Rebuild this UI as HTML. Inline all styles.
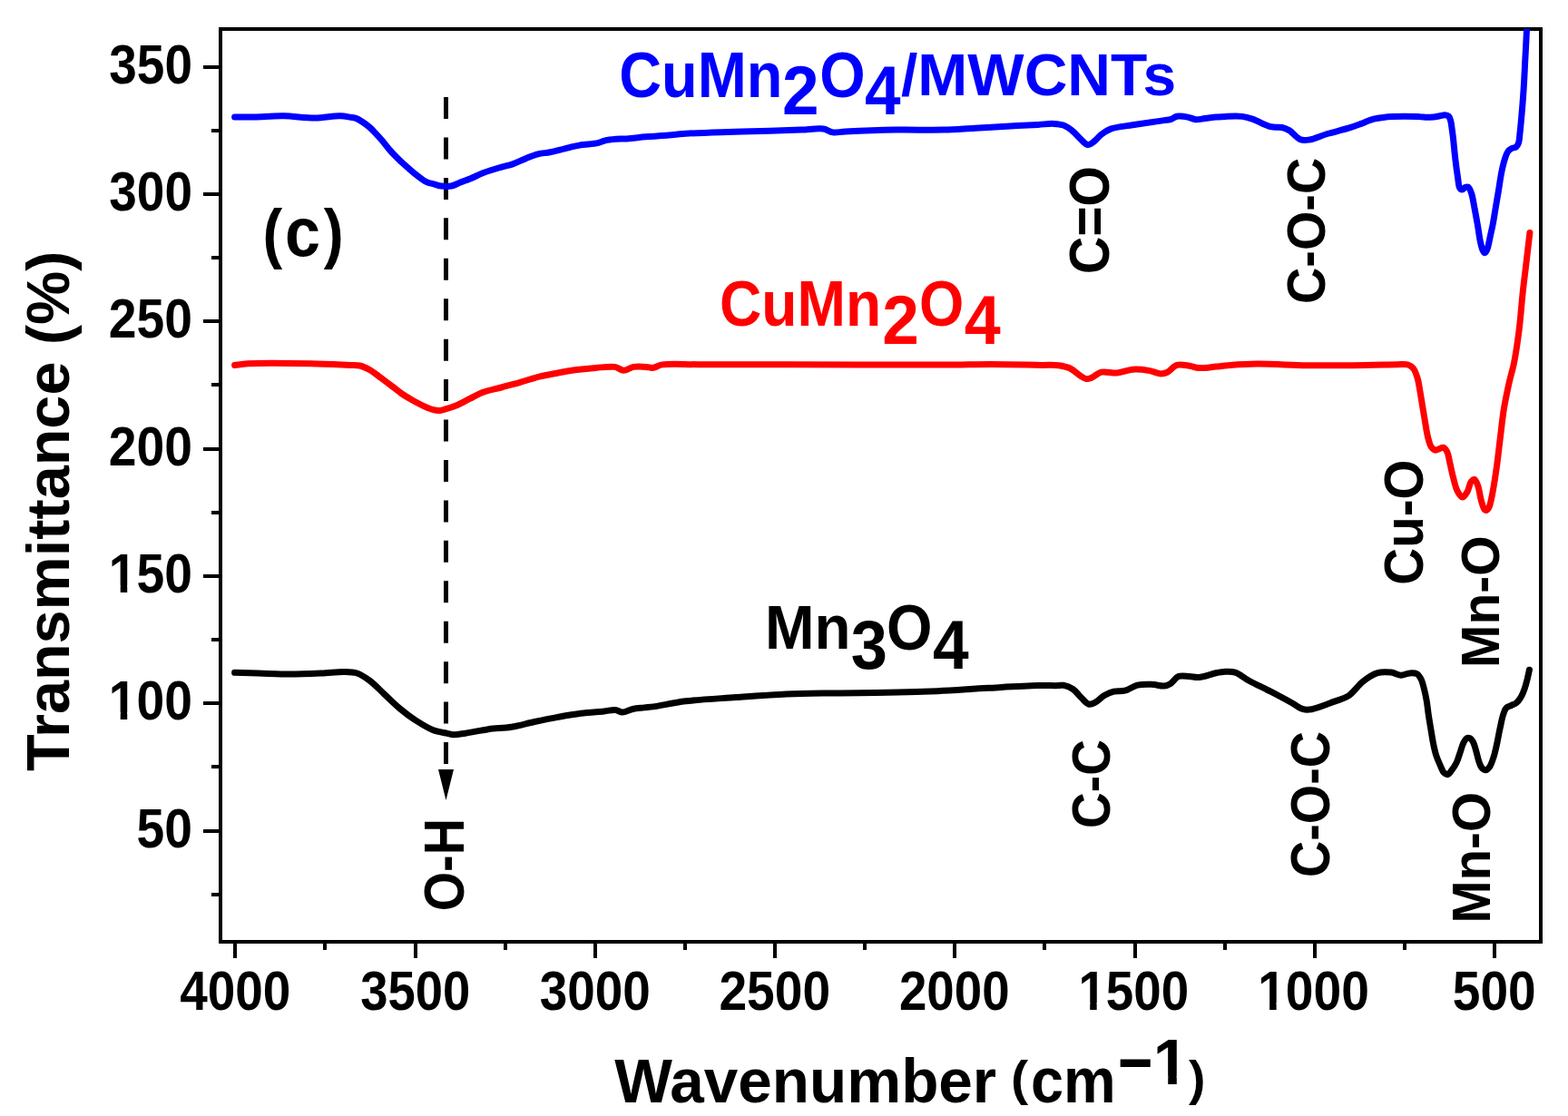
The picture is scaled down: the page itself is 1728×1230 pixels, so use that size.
<!DOCTYPE html>
<html><head><meta charset="utf-8"><title>FTIR spectra</title>
<style>
html,body{margin:0;padding:0;background:#fff;}
body{width:1728px;height:1230px;overflow:hidden;}
svg{display:block;}
text{font-family:"Liberation Sans", Arial, Helvetica, sans-serif;font-weight:bold;}
</style></head><body>
<svg width="1728" height="1230" viewBox="0 0 1728 1230">
<rect x="0" y="0" width="1728" height="1230" fill="#fff"/>
<defs><clipPath id="pc"><rect x="243" y="32" width="1455" height="1006"/></clipPath></defs>
<line x1="491.5" y1="107" x2="491.5" y2="842" stroke="#000" stroke-width="5" stroke-dasharray="24 20.44"/>
<polygon points="483,848 500,848 491.5,882" fill="#000"/>
<rect x="243" y="32" width="1455" height="1006" fill="none" stroke="#000" stroke-width="4"/>
<path d="M224,74H243 M233,144H243 M224,214H243 M233,284H243 M224,354H243 M233,424H243 M224,495H243 M233,565H243 M224,635H243 M233,705H243 M224,775H243 M233,845H243 M224,916H243 M233,986H243 M259,1038V1056 M358,1038V1047 M458,1038V1056 M557,1038V1047 M656,1038V1056 M755,1038V1047 M854,1038V1056 M953,1038V1047 M1052,1038V1056 M1151,1038V1047 M1250.5,1038V1056 M1349.5,1038V1047 M1449,1038V1056 M1548,1038V1047 M1647,1038V1056" stroke="#000" stroke-width="4" fill="none" shape-rendering="crispEdges"/>
<g clip-path="url(#pc)" fill="none" stroke-width="7" stroke-linejoin="round" stroke-linecap="round">
<path stroke="#0000ff" d="M258.6,128.9C265.7,128.9 272.1,129.0 280.0,128.9C289.7,128.7 301.5,127.6 312.5,127.8C323.9,128.0 336.3,130.2 347.2,130.1C357.0,130.0 367.7,127.6 375.0,127.8C379.8,127.9 383.6,128.9 386.8,129.4C389.0,129.7 390.4,129.7 392.3,130.4C394.6,131.2 397.2,132.9 399.6,134.5C402.1,136.1 404.6,137.9 407.0,140.0C409.5,142.2 411.9,144.8 414.3,147.3C416.8,149.9 419.2,152.6 421.6,155.5C424.1,158.5 426.3,161.7 429.1,164.9C432.3,168.6 436.5,172.8 440.0,176.2C443.2,179.3 446.2,181.9 449.3,184.6C452.4,187.3 455.2,189.9 458.5,192.5C462.0,195.2 465.9,198.6 469.6,200.4C472.7,201.9 476.0,202.3 478.9,203.1C481.5,203.8 483.6,204.7 486.3,205.0C489.6,205.4 493.9,205.7 497.4,205.0C500.7,204.4 503.4,202.6 506.7,201.3C510.4,199.8 514.6,198.4 518.7,196.7C523.2,194.9 527.6,192.5 532.6,190.6C538.3,188.4 545.4,186.3 551.1,184.6C556.0,183.1 560.4,182.5 565.0,180.9C569.7,179.3 574.2,176.8 578.9,174.9C583.5,173.1 588.1,171.0 592.8,169.8C597.2,168.7 601.5,168.7 606.2,167.8C611.4,166.8 617.0,165.1 622.4,163.8C627.8,162.5 632.9,161.1 638.6,160.1C645.0,159.0 653.7,158.9 658.9,157.7C662.3,156.9 664.0,155.5 667.0,154.8C670.6,153.9 675.5,153.5 679.1,153.2C682.1,153.0 684.5,153.1 687.2,153.0C689.9,152.9 692.1,152.7 695.3,152.4C699.8,152.0 705.9,151.3 711.5,150.8C717.5,150.3 723.3,150.1 730.0,149.6C737.9,149.0 745.9,147.9 755.7,147.3C768.9,146.5 786.6,146.0 802.0,145.5C817.4,145.0 834.0,144.7 848.3,144.3C860.7,143.9 872.5,143.5 883.0,143.1C891.8,142.7 901.1,141.0 907.4,142.0C911.7,142.7 914.0,145.3 917.8,145.9C922.0,146.5 925.5,145.3 931.7,145.0C944.0,144.4 968.9,143.4 987.2,143.1C1005.0,142.8 1024.2,143.5 1040.0,143.1C1052.8,142.8 1063.1,141.8 1074.7,141.2C1086.3,140.5 1097.8,139.8 1109.4,139.2C1121.0,138.6 1134.6,137.9 1144.2,137.4C1151.0,137.0 1156.5,136.1 1161.5,136.4C1165.4,136.6 1168.6,136.8 1172.0,138.1C1175.6,139.5 1179.2,142.1 1182.4,144.7C1185.6,147.2 1188.1,150.8 1191.0,153.4C1193.6,155.7 1196.2,159.3 1198.9,159.5C1201.4,159.7 1204.3,156.9 1206.7,155.1C1209.2,153.2 1210.9,150.3 1213.6,148.2C1216.6,145.9 1219.6,143.7 1224.0,142.1C1230.3,139.8 1239.5,139.2 1248.3,137.8C1258.8,136.1 1275.8,133.6 1283.0,132.6C1286.2,132.2 1287.7,132.4 1290.0,131.7C1292.4,131.0 1294.3,128.7 1297.0,128.2C1300.4,127.5 1305.3,128.4 1309.0,129.1C1312.2,129.7 1314.7,131.4 1317.8,131.7C1321.0,132.0 1324.5,130.9 1328.0,130.5C1331.8,130.1 1336.1,129.5 1340.0,129.1C1343.6,128.8 1346.4,128.5 1350.3,128.4C1355.6,128.2 1363.6,127.7 1369.0,128.4C1373.2,128.9 1375.8,129.7 1380.0,131.1C1385.8,133.0 1394.2,138.3 1400.3,139.7C1404.9,140.8 1409.2,139.7 1412.8,140.5C1415.8,141.2 1417.8,142.0 1420.6,143.6C1424.4,145.9 1429.0,152.3 1433.1,153.8C1436.3,155.0 1438.8,154.6 1442.5,154.1C1448.0,153.3 1455.8,149.6 1462.8,147.5C1470.3,145.3 1479.5,143.3 1486.2,141.2C1491.5,139.6 1496.2,137.8 1500.0,136.4C1502.7,135.4 1504.6,134.5 1506.9,133.6C1509.2,132.7 1511.3,131.9 1513.9,131.2C1517.0,130.4 1520.8,129.8 1524.3,129.4C1527.8,129.0 1530.4,128.8 1534.7,128.6C1541.7,128.3 1556.3,128.4 1562.5,128.6C1565.6,128.7 1566.9,129.0 1569.4,129.1C1572.5,129.2 1576.8,129.4 1579.9,129.1C1582.5,128.8 1584.6,128.1 1586.8,127.7C1588.8,127.3 1590.7,126.6 1592.4,126.7C1593.9,126.8 1595.5,127.2 1596.5,128.1C1597.6,129.1 1598.0,131.0 1598.6,132.9C1599.3,135.3 1599.6,138.3 1600.0,141.2C1600.5,144.5 1600.9,147.5 1601.4,151.7C1602.1,158.0 1602.9,167.6 1603.8,175.2C1604.6,182.4 1605.7,190.2 1606.6,196.0C1607.3,200.3 1607.3,204.9 1608.6,207.0C1609.3,208.2 1610.4,209.1 1611.4,209.1C1612.5,209.1 1613.7,206.7 1614.9,206.3C1616.0,205.9 1617.3,205.7 1618.3,206.3C1619.8,207.3 1620.8,210.8 1621.8,213.9C1623.2,218.3 1624.1,224.8 1625.2,230.5C1626.4,236.7 1627.6,243.6 1628.7,249.8C1629.7,255.5 1630.3,261.6 1631.4,266.4C1632.2,270.1 1633.1,273.9 1634.2,276.1C1634.8,277.4 1635.6,278.8 1636.3,278.8C1637.2,278.8 1638.2,276.6 1639.0,274.7C1640.4,271.3 1641.4,264.3 1642.5,259.5C1643.5,255.2 1644.3,251.5 1645.2,247.1C1646.2,242.0 1647.0,236.3 1648.0,230.5C1649.1,224.0 1650.3,216.7 1651.5,209.8C1652.6,202.9 1653.6,195.3 1654.9,189.1C1656.0,184.0 1657.1,179.2 1658.4,175.2C1659.4,172.1 1660.3,169.0 1661.8,167.0C1663.0,165.4 1664.5,164.3 1666.0,163.5C1667.5,162.7 1669.5,163.1 1670.8,162.1C1672.1,161.1 1672.9,159.3 1673.6,157.3C1674.5,154.7 1674.5,151.1 1674.9,147.6C1675.4,143.4 1675.8,139.4 1676.3,133.8C1677.1,125.0 1678.3,110.9 1679.0,100.0C1679.7,89.7 1680.1,80.6 1680.6,70.0C1681.2,58.1 1682.2,41.1 1682.5,32.0C1682.7,26.9 1682.7,24.0 1682.8,20.0"/>
<path stroke="#ff0000" d="M258.6,402.5C263.4,401.9 266.4,401.2 273.1,400.8C287.6,400.0 322.3,400.4 342.6,400.8C358.5,401.1 375.3,402.0 385.0,402.4C390.1,402.6 392.8,402.1 396.6,403.0C400.5,403.9 404.4,405.9 408.1,408.0C412.1,410.3 415.8,413.6 419.7,416.4C423.6,419.3 427.4,422.2 431.3,425.1C435.2,428.0 439.0,431.3 442.9,434.0C446.7,436.6 450.5,438.8 454.4,441.0C458.2,443.2 462.1,445.3 466.0,447.1C469.8,448.9 474.1,450.8 477.6,451.7C480.3,452.4 482.8,452.7 485.0,452.5C486.8,452.4 487.9,451.9 490.0,451.2C493.5,450.2 499.3,448.3 503.9,446.4C508.6,444.4 513.2,441.7 517.8,439.4C522.4,437.1 526.5,434.5 531.7,432.5C537.8,430.2 545.6,428.8 552.5,427.0C559.4,425.1 566.4,423.4 573.3,421.4C580.3,419.4 587.2,416.8 594.2,415.1C601.1,413.4 608.1,412.3 615.0,411.0C621.9,409.7 628.8,408.4 635.8,407.5C642.7,406.6 649.7,405.9 656.7,405.4C663.6,404.9 672.0,403.5 677.5,404.4C681.4,405.0 683.8,408.1 687.2,408.2C690.8,408.3 694.3,405.1 698.3,404.4C702.6,403.7 708.4,404.1 712.2,404.4C714.9,404.6 716.6,405.6 719.2,405.4C722.4,405.1 725.2,402.7 730.0,401.9C739.0,400.5 753.3,401.7 769.6,401.7C795.7,401.6 833.3,401.7 871.5,401.7C920.6,401.8 999.9,402.3 1040.0,402.1C1062.3,402.0 1074.4,401.5 1092.0,401.5C1110.2,401.5 1133.9,402.2 1147.6,402.4C1155.6,402.5 1161.1,402.0 1166.7,402.7C1171.3,403.3 1175.0,404.0 1178.9,405.8C1183.1,407.8 1187.6,412.4 1191.0,414.5C1193.3,415.9 1195.0,417.3 1197.1,417.6C1199.1,417.8 1201.0,417.1 1203.2,416.2C1206.3,415.0 1209.5,411.2 1213.6,410.2C1218.5,409.0 1225.2,411.5 1231.0,411.0C1236.8,410.5 1242.5,407.6 1248.3,407.2C1254.1,406.8 1260.3,407.5 1265.7,408.4C1270.6,409.2 1275.8,411.9 1279.6,411.9C1282.3,411.9 1284.1,411.3 1286.5,410.2C1289.8,408.7 1293.0,403.6 1297.0,402.4C1301.1,401.2 1306.5,402.6 1310.8,403.2C1314.5,403.7 1317.2,405.2 1321.2,405.5C1326.5,405.9 1334.3,404.6 1340.0,404.1C1344.8,403.7 1348.0,403.1 1353.4,402.7C1361.6,402.1 1372.8,401.2 1384.7,401.1C1400.4,400.9 1421.9,402.4 1439.4,402.7C1455.6,402.9 1470.1,402.9 1486.2,402.7C1503.5,402.5 1528.6,401.7 1540.0,401.7C1545.3,401.7 1548.6,401.0 1551.7,402.0C1554.1,402.8 1556.0,404.1 1557.6,406.1C1559.6,408.6 1560.8,412.6 1562.0,416.4C1563.4,420.8 1564.0,425.9 1564.9,431.0C1565.9,436.6 1566.8,442.7 1567.8,448.6C1568.8,454.4 1569.7,460.4 1570.7,466.1C1571.7,471.6 1572.4,477.5 1573.7,482.2C1574.7,486.1 1575.6,490.1 1577.3,492.5C1578.5,494.2 1580.1,495.8 1581.7,496.1C1583.1,496.4 1584.6,495.2 1586.1,494.7C1587.6,494.2 1589.1,492.8 1590.5,493.2C1592.1,493.6 1593.8,496.1 1594.9,498.3C1596.4,501.3 1596.8,505.9 1597.8,510.1C1599.0,515.0 1600.1,521.0 1601.5,526.2C1602.8,531.2 1603.9,536.9 1605.9,540.8C1607.5,543.8 1609.8,548.0 1611.7,548.1C1613.4,548.2 1615.4,544.7 1616.9,542.3C1618.8,539.2 1619.5,532.8 1621.3,530.6C1622.4,529.3 1623.8,528.1 1624.9,528.4C1626.3,528.8 1627.5,532.2 1628.6,535.0C1630.2,539.1 1630.8,546.3 1632.2,551.0C1633.3,554.9 1634.5,559.9 1635.9,561.5C1636.6,562.2 1637.3,562.6 1638.0,562.5C1639.0,562.3 1640.2,560.6 1641.0,559.0C1642.2,556.8 1642.6,554.0 1643.5,550.0C1645.2,542.5 1647.5,527.9 1649.1,516.8C1650.7,505.8 1651.8,494.7 1653.2,483.6C1654.6,472.5 1655.7,460.9 1657.4,450.4C1659.0,440.7 1661.0,431.4 1662.9,422.7C1664.6,414.9 1666.7,408.9 1668.4,400.6C1670.5,390.1 1672.4,377.1 1674.0,364.6C1675.7,351.3 1676.7,336.3 1678.1,323.0C1679.4,310.6 1681.0,298.6 1682.3,287.1C1683.5,276.5 1684.7,266.8 1685.9,256.6"/>
<path stroke="#000000" d="M258.6,741.3C267.3,741.5 275.4,741.7 284.7,742.0C295.4,742.3 307.8,743.1 319.4,743.1C331.0,743.1 343.5,742.5 354.2,742.0C363.3,741.6 372.4,740.2 379.6,740.4C384.9,740.5 389.0,740.5 393.5,742.0C398.3,743.6 402.8,746.7 407.4,750.1C412.8,754.1 418.2,760.1 423.6,765.1C429.0,770.1 434.1,775.4 439.8,780.2C445.6,785.1 452.0,790.0 458.3,794.1C464.4,798.0 470.8,802.1 476.9,804.5C482.3,806.6 488.7,807.5 493.0,808.4C495.8,809.0 497.3,809.6 500.0,809.7C503.6,809.8 507.7,808.9 512.7,808.2C519.7,807.2 529.7,804.9 538.2,803.7C546.7,802.5 555.2,802.6 563.7,801.2C572.2,799.8 580.6,797.3 589.1,795.5C597.6,793.7 606.1,791.9 614.6,790.4C623.1,788.9 631.5,787.4 640.0,786.3C648.5,785.2 658.5,784.7 665.5,784.0C670.5,783.5 674.5,782.1 678.2,782.5C681.1,782.8 683.1,785.0 685.9,785.0C689.3,785.0 693.4,782.3 697.3,781.5C701.4,780.6 706.0,780.4 710.0,779.9C713.5,779.5 715.7,779.5 720.0,778.9C728.2,777.8 742.4,774.4 755.6,772.8C772.0,770.8 792.5,769.9 811.0,768.6C829.5,767.3 848.2,765.8 866.7,765.0C885.2,764.2 903.5,764.2 922.0,763.9C940.6,763.6 959.3,763.7 977.8,763.3C996.3,762.9 1014.5,762.5 1033.0,761.7C1051.6,760.9 1070.3,759.3 1088.9,758.3C1107.4,757.3 1130.0,755.9 1144.4,755.6C1153.5,755.4 1161.8,755.8 1166.7,755.6C1169.1,755.5 1170.0,754.9 1172.0,755.2C1174.9,755.7 1179.3,757.4 1182.4,759.5C1185.6,761.7 1188.1,765.4 1191.0,768.2C1193.9,770.9 1196.8,775.3 1199.7,776.0C1202.0,776.6 1204.3,775.5 1206.7,774.3C1210.0,772.8 1213.4,768.6 1217.0,766.5C1220.4,764.6 1223.8,763.0 1227.5,762.1C1231.3,761.2 1235.6,762.2 1239.7,761.2C1244.3,760.1 1248.6,756.4 1253.5,755.2C1258.5,754.0 1264.1,754.1 1269.2,754.3C1274.0,754.5 1279.2,756.4 1283.0,756.0C1285.8,755.7 1287.7,754.8 1290.0,753.4C1292.9,751.6 1295.3,746.9 1298.7,745.6C1302.2,744.3 1306.9,745.4 1310.8,745.6C1314.4,745.8 1317.3,746.8 1321.2,746.5C1326.6,746.1 1334.6,742.9 1340.0,741.8C1343.9,741.0 1346.8,740.4 1350.3,740.3C1353.9,740.2 1357.4,739.9 1361.2,741.1C1366.1,742.7 1371.1,747.3 1376.9,750.5C1383.9,754.3 1392.5,758.2 1400.3,762.2C1408.2,766.2 1417.2,771.1 1423.8,774.7C1428.6,777.3 1432.2,780.7 1436.2,781.7C1439.4,782.5 1441.8,782.3 1445.6,781.7C1452.0,780.6 1463.3,775.8 1470.6,773.1C1476.4,770.9 1481.3,770.1 1486.2,766.9C1491.8,763.2 1496.4,755.5 1501.9,751.2C1506.9,747.3 1512.1,743.5 1517.5,741.9C1522.5,740.4 1528.4,740.6 1533.1,741.1C1537.1,741.6 1540.5,744.1 1544.0,744.2C1547.2,744.3 1550.4,742.1 1553.4,741.9C1556.2,741.7 1559.4,741.5 1561.6,742.7C1563.7,743.9 1565.0,746.5 1566.3,749.0C1567.8,752.0 1568.5,755.9 1569.5,759.6C1570.5,763.6 1571.4,767.8 1572.2,772.3C1573.1,777.3 1573.5,782.8 1574.3,788.1C1575.1,793.4 1576.0,798.7 1576.9,804.0C1577.8,809.3 1578.6,814.8 1579.6,819.8C1580.5,824.3 1581.4,828.5 1582.7,832.5C1583.9,836.2 1585.5,839.8 1587.0,843.1C1588.4,846.1 1589.5,849.8 1591.2,851.5C1592.4,852.7 1594.0,853.8 1595.4,853.6C1597.1,853.3 1598.7,850.4 1600.2,848.4C1602.0,846.0 1603.9,843.0 1605.4,839.9C1606.9,836.6 1607.9,832.8 1609.1,829.3C1610.3,825.8 1611.4,821.6 1612.8,818.8C1613.8,816.8 1614.7,814.8 1616.0,814.0C1617.1,813.3 1618.6,813.1 1619.7,813.5C1621.1,814.0 1622.4,815.9 1623.4,817.7C1624.8,820.1 1625.6,823.9 1626.6,827.2C1627.7,830.9 1628.5,835.5 1629.7,838.9C1630.7,841.7 1631.4,844.5 1632.9,846.2C1634.1,847.5 1635.7,848.9 1637.1,848.8C1638.6,848.7 1640.3,847.0 1641.6,845.2C1643.5,842.6 1644.9,837.8 1646.2,833.8C1647.6,829.5 1648.5,824.9 1649.6,820.1C1650.8,814.8 1651.8,808.6 1653.0,803.1C1654.1,798.0 1655.1,792.4 1656.4,788.3C1657.4,785.2 1658.1,782.1 1659.8,780.3C1661.3,778.7 1663.6,778.4 1665.5,777.5C1667.4,776.5 1669.5,776.0 1671.2,774.6C1673.0,773.1 1674.4,771.2 1675.8,768.9C1677.5,766.1 1679.1,762.2 1680.3,758.7C1681.5,755.3 1682.3,751.8 1683.2,748.4C1684.0,745.0 1684.7,741.7 1685.4,738.3"/>
</g>
<text fill="#000"><tspan x="677.20" y="1214.90" font-size="68.40" textLength="420.91" lengthAdjust="spacingAndGlyphs">Wavenumber</tspan> <tspan x="1114.13" y="1206.55" font-size="53.82" textLength="19.14" lengthAdjust="spacingAndGlyphs">(</tspan><tspan x="1136.00" y="1215.00" font-size="71.21" textLength="93.71" lengthAdjust="spacingAndGlyphs">cm</tspan><tspan x="1232.10" y="1196.91" font-size="76.57" textLength="38.50" lengthAdjust="spacingAndGlyphs">&#8722;</tspan><tspan x="1270.80" y="1194.85" font-size="69.63" textLength="39.06" lengthAdjust="spacingAndGlyphs">1</tspan><tspan x="1310.00" y="1206.51" font-size="54.03" textLength="18.44" lengthAdjust="spacingAndGlyphs">)</tspan></text><rect x="1273.61" y="1185.80" width="13.62" height="10.79" fill="#fff"/><rect x="1296.78" y="1185.80" width="12.64" height="10.79" fill="#fff"/>
<text fill="#0000ff"><tspan x="682.25" y="107.00" font-size="70.74" textLength="180.07" lengthAdjust="spacingAndGlyphs">CuMn</tspan><tspan x="862.00" y="125.90" font-size="75.72" textLength="40.60" lengthAdjust="spacingAndGlyphs">2</tspan><tspan x="903.26" y="106.70" font-size="70.30" textLength="50.39" lengthAdjust="spacingAndGlyphs">O</tspan><tspan x="952.93" y="125.90" font-size="75.92" textLength="39.55" lengthAdjust="spacingAndGlyphs">4</tspan><tspan x="993.00" y="105.04" font-size="64.68" textLength="303.13" lengthAdjust="spacingAndGlyphs">/MWCNTs</tspan></text>
<text fill="#ff0000"><tspan x="792.98" y="358.70" font-size="69.73" textLength="178.15" lengthAdjust="spacingAndGlyphs">CuMn</tspan><tspan x="972.20" y="378.70" font-size="76.01" textLength="40.61" lengthAdjust="spacingAndGlyphs">2</tspan><tspan x="1013.02" y="358.70" font-size="69.73" textLength="49.32" lengthAdjust="spacingAndGlyphs">O</tspan><tspan x="1062.72" y="378.70" font-size="76.07" textLength="39.97" lengthAdjust="spacingAndGlyphs">4</tspan></text>
<text fill="#000000"><tspan x="842.88" y="715.00" font-size="67.95" textLength="94.51" lengthAdjust="spacingAndGlyphs">Mn</tspan><tspan x="937.72" y="737.06" font-size="76.17" textLength="40.15" lengthAdjust="spacingAndGlyphs">3</tspan><tspan x="977.09" y="716.30" font-size="70.95" textLength="50.50" lengthAdjust="spacingAndGlyphs">O</tspan><tspan x="1027.92" y="736.80" font-size="75.77" textLength="39.66" lengthAdjust="spacingAndGlyphs">4</tspan></text>
<text fill="#000"><tspan x="289.38" y="281.82" font-size="71.89" textLength="21.70" lengthAdjust="spacingAndGlyphs">(</tspan><tspan x="314.00" y="282.23" font-size="75.88" textLength="38.99" lengthAdjust="spacingAndGlyphs">c</tspan><tspan x="356.80" y="281.82" font-size="71.89" textLength="21.94" lengthAdjust="spacingAndGlyphs">)</tspan></text>
<g transform="matrix(0.9632 0 0 1.0666 7.72 -6.20)"><text x="212" y="92.0" font-size="57" text-anchor="end">350</text></g>
<g transform="matrix(0.9632 0 0 1.0666 7.72 -15.53)"><text x="212" y="232.3" font-size="57" text-anchor="end">300</text></g>
<g transform="matrix(0.9687 0 0 1.0666 6.58 -25.92)"><text x="212" y="372.7" font-size="57" text-anchor="end">250</text></g>
<g transform="matrix(0.9687 0 0 1.0666 6.58 -34.25)"><text x="212" y="513.0" font-size="57" text-anchor="end">200</text></g>
<g transform="matrix(0.9691 0 0 1.0666 6.50 -43.58)"><text x="212" y="653.3" font-size="57" text-anchor="end">150</text><rect x="119.18" y="645.92" width="11.06" height="8.83" fill="#fff"/><rect x="137.99" y="645.92" width="10.26" height="8.83" fill="#fff"/></g>
<g transform="matrix(0.9691 0 0 1.0666 6.50 -53.97)"><text x="212" y="793.7" font-size="57" text-anchor="end">100</text><rect x="119.18" y="786.26" width="11.06" height="8.83" fill="#fff"/><rect x="137.99" y="786.26" width="10.26" height="8.83" fill="#fff"/></g>
<g transform="matrix(0.9689 0 0 1.0666 6.54 -62.30)"><text x="212" y="934.0" font-size="57" text-anchor="end">50</text></g>
<g transform="matrix(0.9633 0 0 1.0628 9.82 -69.90)"><text x="259.0" y="1113" font-size="57" text-anchor="middle">4000</text></g>
<g transform="matrix(0.9545 0 0 1.0628 21.30 -69.90)"><text x="457.3" y="1113" font-size="57" text-anchor="middle">3500</text></g>
<g transform="matrix(0.9635 0 0 1.0628 24.04 -69.90)"><text x="655.6" y="1113" font-size="57" text-anchor="middle">3000</text></g>
<g transform="matrix(0.9676 0 0 1.0628 27.50 -69.90)"><text x="853.9" y="1113" font-size="57" text-anchor="middle">2500</text></g>
<g transform="matrix(0.9596 0 0 1.0628 42.15 -69.90)"><text x="1052.1" y="1113" font-size="57" text-anchor="middle">2000</text></g>
<g transform="matrix(0.9598 0 0 1.0628 49.11 -69.90)"><text x="1250.4" y="1113" font-size="57" text-anchor="middle">1500</text><rect x="1189.31" y="1105.59" width="11.06" height="8.83" fill="#fff"/><rect x="1208.12" y="1105.59" width="10.26" height="8.83" fill="#fff"/></g>
<g transform="matrix(0.9680 0 0 1.0628 45.22 -69.90)"><text x="1448.7" y="1113" font-size="57" text-anchor="middle">1000</text><rect x="1387.59" y="1105.59" width="11.06" height="8.83" fill="#fff"/><rect x="1406.40" y="1105.59" width="10.26" height="8.83" fill="#fff"/></g>
<g transform="matrix(0.9651 0 0 1.0628 57.24 -69.90)"><text x="1647.0" y="1113" font-size="57" text-anchor="middle">500</text></g>
<g transform="matrix(1.0000 0 0 0.9939 -1.00 6.18)"><text transform="translate(77,849) rotate(-90)" font-size="67">Transmittance (%)</text></g>
<g transform="matrix(1.0752 0 0 0.9850 -91.04 6.49)"><text transform="translate(1221,300) rotate(-90)" font-size="58">C=O</text></g>
<g transform="matrix(1.0314 0 0 0.9619 -45.40 14.61)"><text transform="translate(1460,333) rotate(-90)" font-size="58">C-O-C</text></g>
<g transform="matrix(1.0650 0 0 0.9752 -101.62 17.61)"><text transform="translate(1568,643) rotate(-90)" font-size="58">Cu-O</text></g>
<g transform="matrix(1.0225 0 0 0.9817 -36.77 17.33)"><text transform="translate(1652,732) rotate(-90)" font-size="58">Mn-O</text></g>
<g transform="matrix(1.0288 0 0 0.9500 -35.16 47.48)"><text transform="translate(1223,911) rotate(-90)" font-size="58">C-C</text></g>
<g transform="matrix(1.0388 0 0 0.9616 -56.41 39.14)"><text transform="translate(1465,965) rotate(-90)" font-size="58">C-O-C</text></g>
<g transform="matrix(1.0300 0 0 0.9754 -48.86 28.49)"><text transform="translate(1642,1014) rotate(-90)" font-size="58">Mn-O</text></g>
<g transform="matrix(1.0725 0 0 0.9630 -37.05 39.40)"><text transform="translate(511,1002) rotate(-90)" font-size="58">O-H</text></g>
</svg>
</body></html>
